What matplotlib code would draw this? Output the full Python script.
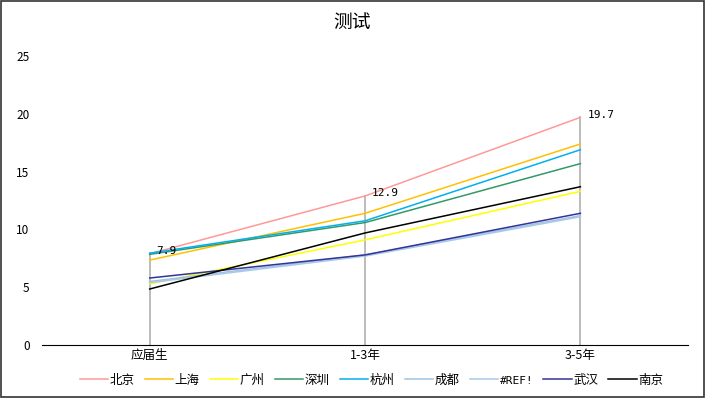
import matplotlib
matplotlib.use('Agg')
import matplotlib.pyplot as plt
from matplotlib.patches import Rectangle

plt.rcParams['font.family'] = ['Noto Sans CJK SC', 'DejaVu Sans']

# data
categories = ['应届生', '1-3年', '3-5年']
series_names = ['北京', '上海', '广州', '深圳', '杭州', '成都', '#REF!', '武汉', '南京']
beijing = [7.9, 12.9, 19.7]
shanghai = [7.35, 11.4, 17.4]
guangzhou = [5.3, 9.1, 13.3]
shenzhen = [7.85, 10.6, 15.7]
hangzhou = [7.95, 10.75, 16.9]
chengdu = [5.5, 7.8, 11.2]
ref_err = [5.4, 7.7, 11.1]
wuhan = [5.8, 7.8, 11.4]
nanjing = [4.85, 9.7, 13.7]
label_values = beijing

series = [beijing, shanghai, guangzhou, shenzhen, hangzhou, chengdu, ref_err, wuhan, nanjing]
colors = ['#FF9999', '#FFC000', '#FFFF00', '#339966', '#00B0F0',
          '#9DC3E6', '#A9C8E8', '#333399', '#000000']

fig = plt.figure(figsize=(7.05, 3.98), dpi=100)
ax = fig.add_axes([0.0596, 0.133, 0.9164, 0.726])

x = list(range(len(categories)))

# drop lines
for xi in x:
    top = max(s[xi] for s in series)
    ax.plot([xi, xi], [0, top], color='#B0B0B0', lw=1.2, zorder=1)

for name, vals, c in zip(series_names, series, colors):
    ax.plot(x, vals, color=c, lw=1.1, label=name, zorder=2)

for xi, v in zip(x, label_values):
    ax.annotate(f'{v:.1f}', (xi, v), xytext=(5, 2), textcoords='offset points',
                ha='left', va='center', fontsize=8, family='DejaVu Sans Mono')

ax.set_xlim(-0.5, 2.5)
ax.set_ylim(0, 25)
ax.set_yticks([0, 5, 10, 15, 20, 25])
ax.set_xticks(x)
ax.set_xticklabels(categories, fontsize=9)
ax.tick_params(axis='y', length=0, labelsize=8.5, pad=9)
ax.tick_params(axis='x', length=0, pad=3)
for sp in ['top', 'right', 'left']:
    ax.spines[sp].set_visible(False)
ax.spines['bottom'].set_color('#000000')

fig.text(0.5, 0.943, '测试', ha='center', va='center', fontsize=13.5)

leg = fig.legend(loc='center', bbox_to_anchor=(0.527, 0.045), ncol=9, frameon=False,
                 fontsize=9, handlelength=2.3, handletextpad=0.1, columnspacing=0.8)
for t in leg.get_texts():
    if t.get_text() == '#REF!':
        t.set_family('DejaVu Sans Mono')
        t.set_fontsize(8)

fig.add_artist(Rectangle((0.001, 0.002), 0.997, 0.995, transform=fig.transFigure,
                         fill=False, edgecolor='#333333', lw=1.2))

fig.savefig('out.png', dpi=100)
